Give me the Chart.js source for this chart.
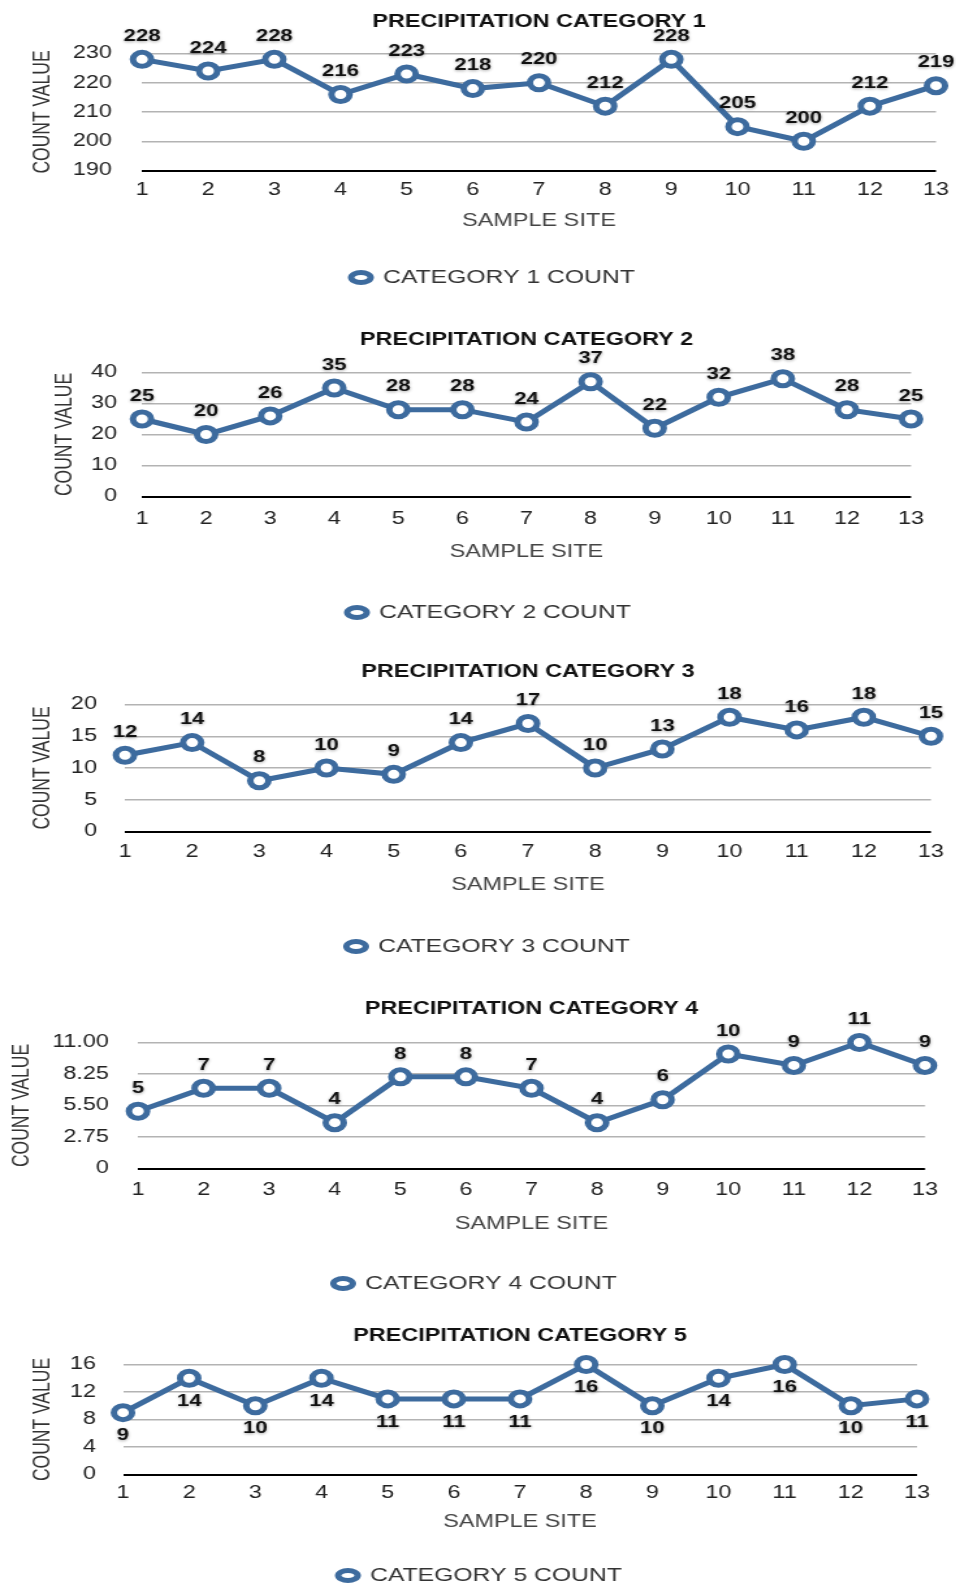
<!DOCTYPE html>
<html>
<head>
<meta charset="utf-8">
<title>Precipitation categories</title>
<script src="https://cdn.jsdelivr.net/npm/chart.js@4.4.0/dist/chart.umd.min.js"></script>
<style>
  html, body { margin: 0; padding: 0; background: #fff; }
  body { width: 956px; height: 1585px; position: relative; overflow: hidden; }
  canvas { position: absolute; left: 0; }
</style>
</head>
<body>
<script>
// sample sites along the x axis
const sites = ['1', '2', '3', '4', '5', '6', '7', '8', '9', '10', '11', '12', '13'];

// counts per site, one array per precipitation category
const cat1 = [228, 224, 228, 216, 223, 218, 220, 212, 228, 205, 200, 212, 219];
const cat2 = [25, 20, 26, 35, 28, 28, 24, 37, 22, 32, 38, 28, 25];
const cat3 = [12, 14, 8, 10, 9, 14, 17, 10, 13, 18, 16, 18, 15];
const cat4 = [5, 7, 7, 4, 8, 8, 7, 4, 6, 10, 9, 11, 9];
const cat5 = [9, 14, 10, 14, 11, 11, 11, 16, 10, 14, 16, 10, 11];

// y axis ticks for each panel
const ticks1 = [190, 200, 210, 220, 230];
const ticks2 = [0, 10, 20, 30, 40];
const ticks3 = [0, 5, 10, 15, 20];
const ticks4 = [0, 2.75, 5.5, 8.25, 11];
const ticks5 = [0, 4, 8, 12, 16];
const tickLabels4 = ['0', '2.75', '5.50', '8.25', '11.00'];

const FONT = "'Liberation Sans', Arial, Helvetica, sans-serif";
const BLUE = '#3d6b9e';
const S = 1.3; // the original picture is stretched sideways

Chart.defaults.font.family = FONT;
Chart.defaults.color = '#222';

// page positions (px) of each panel's pieces
const panels = [
  { n: 1, data: cat1, ticks: ticks1, tickLabels: null, below: false,
    left: 142, right: 936, top: 53, bottom: 170, titleY: 22, xTickY: 188, xTitleY: 219,
    legendY: 277, legendX: 493, yTitleX: 43, yTickRight: 112 },
  { n: 2, data: cat2, ticks: ticks2, tickLabels: null, below: false,
    left: 142, right: 911, top: 372, bottom: 496, titleY: 340, xTickY: 517, xTitleY: 550,
    legendY: 612, legendX: 489, yTitleX: 65, yTickRight: 117 },
  { n: 3, data: cat3, ticks: ticks3, tickLabels: null, below: false,
    left: 125, right: 931, top: 704, bottom: 831, titleY: 672, xTickY: 850, xTitleY: 883,
    legendY: 946, legendX: 488, yTitleX: 43, yTickRight: 97 },
  { n: 4, data: cat4, ticks: ticks4, tickLabels: tickLabels4, below: false,
    left: 138, right: 925, top: 1042, bottom: 1168, titleY: 1009, xTickY: 1188, xTitleY: 1222,
    legendY: 1283, legendX: 475, yTitleX: 22, yTickRight: 109 },
  { n: 5, data: cat5, ticks: ticks5, tickLabels: null, below: true,
    left: 123, right: 917, top: 1364, bottom: 1474, titleY: 1336, xTickY: 1491, xTitleY: 1520,
    legendY: 1575, legendX: 480, yTitleX: 43, yTickRight: 96 }
];

// value labels next to each point
const pointLabels = {
  id: 'pointLabels',
  afterDatasetsDraw(chart, args, opts) {
    const ctx = chart.ctx;
    const meta = chart.getDatasetMeta(0);
    const values = chart.data.datasets[0].data;
    ctx.save();
    ctx.font = 'bold 17px ' + FONT;
    ctx.textAlign = 'center';
    ctx.textBaseline = 'middle';
    ctx.fillStyle = '#111';
    ctx.shadowColor = 'rgba(0,0,0,0.35)';
    ctx.shadowBlur = 3;
    ctx.shadowOffsetY = 1;
    meta.data.forEach((pt, i) => {
      ctx.fillText(String(values[i]), pt.x, pt.y + opts.offset);
    });
    ctx.restore();
  }
};

panels.forEach(p => {
  const W = 2 * p.legendX;       // legend is centred on the canvas
  const top = p.titleY - 12.5;
  const H = Math.round(p.legendY + 19.5 - top);
  const Wu = Math.round(W / S);
  const k = W / Wu;

  const canvas = document.createElement('canvas');
  canvas.width = Wu;
  canvas.height = H;
  canvas.style.width = W + 'px';
  canvas.style.height = H + 'px';
  canvas.style.top = top + 'px';
  document.body.appendChild(canvas);

  const titleLH = 18 * 1.2;
  const tickLH = 18 * 1.2;
  const legendH = 19 + 10 + 10;
  const legendTop = H - legendH;          // local
  const areaTop = p.top - top;            // local
  const areaBottom = p.bottom - top;      // local

  new Chart(canvas, {
    type: 'line',
    data: {
      labels: sites,
      datasets: [{
        label: 'CATEGORY ' + p.n + ' COUNT',
        data: p.data,
        borderColor: BLUE,
        borderWidth: 5,
        backgroundColor: '#fff',
        pointBackgroundColor: '#fff',
        pointBorderColor: BLUE,
        pointBorderWidth: 5,
        pointRadius: 7,
        tension: 0,
        clip: false
      }]
    },
    options: {
      responsive: false,
      animation: false,
      events: [],
      layout: { padding: 0 },
      plugins: {
        title: {
          display: true,
          text: 'PRECIPITATION CATEGORY ' + p.n,
          font: { size: 18, weight: 'bold' },
          color: '#111',
          fullSize: false,
          padding: { top: 1.7, bottom: areaTop - titleLH - 1.7 }
        },
        legend: {
          position: 'bottom',
          labels: {
            usePointStyle: true,
            pointStyle: 'circle',
            boxHeight: 7,
            pointStyleWidth: 15,
            padding: 10,
            font: { size: 19 },
            color: '#333'
          }
        },
        tooltip: { enabled: false },
        pointLabels: { offset: p.below ? 23 : -23 }
      },
      scales: {
        x: {
          type: 'category',
          offset: false,
          grid: { display: false },
          border: { display: false },
          ticks: {
            font: { size: 18 },
            color: '#222',
            padding: p.xTickY - p.bottom - tickLH / 2 - 6,
            maxRotation: 0,
            autoSkip: false
          },
          title: {
            display: true,
            text: 'SAMPLE SITE',
            font: { size: 18 },
            color: '#444',
            padding: { top: 0, bottom: (legendTop + top) - p.xTitleY - tickLH / 2 - 2 }
          },
          afterFit: scale => {
            scale.height = legendTop - areaBottom;
            scale.paddingRight = (W - p.right) / k;   // room right of the plot
          }
        },
        y: {
          min: p.ticks[0],
          max: p.ticks[p.ticks.length - 1],
          afterBuildTicks: scale => { scale.ticks = p.ticks.map(v => ({ value: v })); },
          grid: {
            drawTicks: false,
            color: c => (c.index === 0 ? '#000' : '#b3b3b3'),
            lineWidth: c => (c.index === 0 ? 2 : 1.5)
          },
          border: { display: false },
          ticks: {
            font: { size: 18 },
            color: '#222',
            padding: (p.left - p.yTickRight) / k,
            callback: (v, i) => (p.tickLabels ? p.tickLabels[i] : v)
          },
          title: {
            display: true,
            text: 'COUNT VALUE',
            font: { size: 17.5 },
            color: '#333',
            padding: { top: p.yTitleX / k - 17.5 * 1.2 / 2, bottom: 0 }
          },
          afterFit: scale => { scale.width = p.left / k; }
        }
      }
    },
    plugins: [pointLabels]
  });
});
</script>
</body>
</html>
